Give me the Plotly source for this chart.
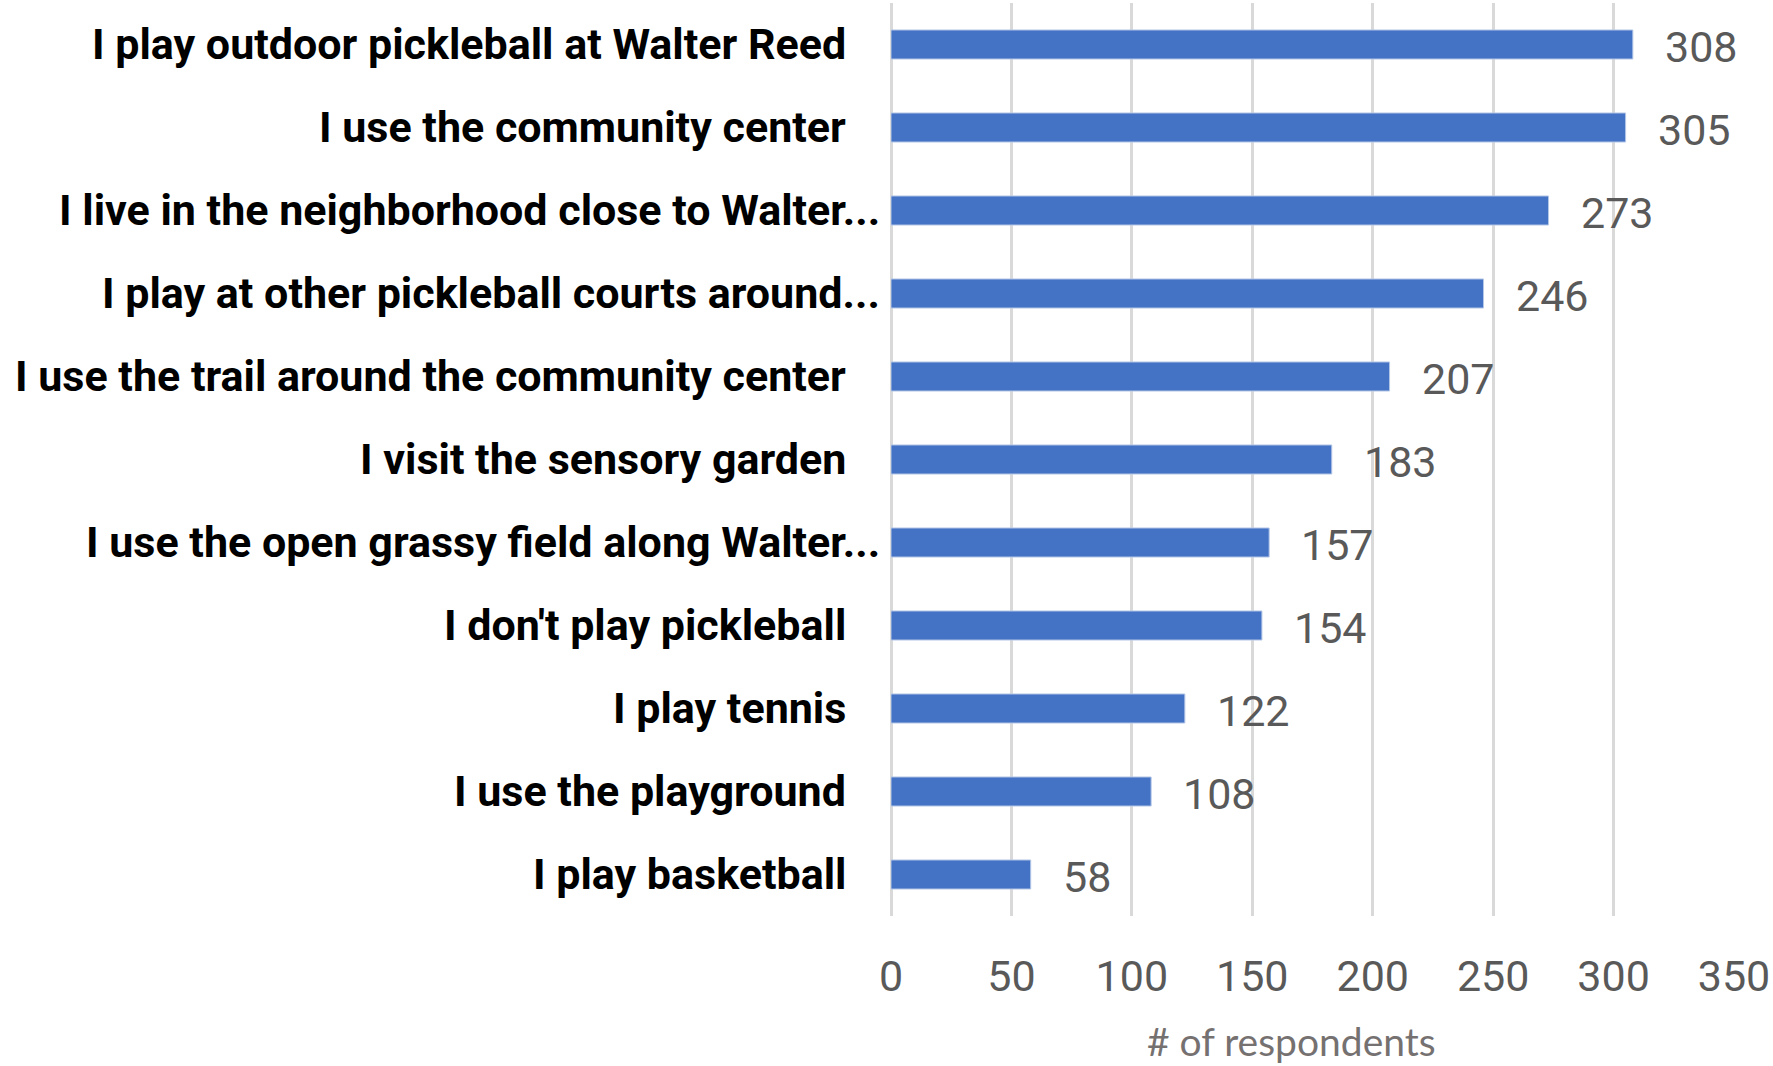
import plotly.graph_objects as go

categories = [
    "I play outdoor pickleball at Walter Reed",
    "I use the community center",
    "I live in the neighborhood close to Walter...",
    "I play at other pickleball courts around...",
    "I use the trail around the community center",
    "I visit the sensory garden",
    "I use the open grassy field along Walter...",
    "I don't play pickleball",
    "I play tennis",
    "I use the playground",
    "I play basketball",
]
values = [308, 305, 273, 246, 207, 183, 157, 154, 122, 108, 58]
x_ticks = [0, 50, 100, 150, 200, 250, 300, 350]
axis_title = "# of respondents"

BAR = "#4472C4"
GRID = "#D9D9D9"
LABEL_FONT = "Roboto, Arial"

fig = go.Figure()
fig.add_trace(go.Bar(
    x=values, y=categories, orientation="h",
    marker=dict(color=BAR, line=dict(color="#B4C7E7", width=1)),
    width=0.35, hoverinfo="x+y",
))

annotations = []
for c, v in zip(categories, values):
    annotations.append(dict(
        x=v, y=c, xref="x", yref="y", text=str(v), showarrow=False,
        xanchor="left", yanchor="middle", xshift=30, yshift=-2,
        font=dict(family=LABEL_FONT, size=43, color="#595959"),
    ))
    trunc = c.endswith("...")
    annotations.append(dict(
        x=0, y=c, xref="paper", yref="y", text="<b>" + c + "</b>", showarrow=False,
        xanchor="right", yanchor="middle", xshift=-9 if trunc else -43, yshift=1,
        font=dict(family=LABEL_FONT, size=43, color="#000000"),
    ))
annotations.append(dict(
    x=0.475, y=-0.137, xref="paper", yref="paper", text=axis_title, showarrow=False,
    xanchor="center", yanchor="middle",
    font=dict(family="Lato, Open Sans", size=39, color="#767171"),
))

fig.update_layout(
    width=1773, height=1066,
    margin=dict(l=891, r=37, t=3, b=150),
    paper_bgcolor="white", plot_bgcolor="white",
    showlegend=False,
    annotations=annotations,
)
fig.update_xaxes(
    range=[0, 350], tickvals=x_ticks, showgrid=True, gridcolor=GRID, gridwidth=2.5,
    zeroline=True, zerolinecolor=GRID, zerolinewidth=2.5,
    ticks="outside", ticklen=22, tickcolor="rgba(0,0,0,0)",
    tickfont=dict(family=LABEL_FONT, size=43, color="#595959"),
    showline=False, fixedrange=True,
)
fig.update_yaxes(
    categoryorder="array", categoryarray=categories[::-1],
    showticklabels=False, showgrid=False, zeroline=False, showline=False, fixedrange=True,
)

fig.write_html(
    "out.html",
    config={"displayModeBar": False},
    post_script="document.body.style.margin='0';document.body.style.overflow='hidden';",
)
